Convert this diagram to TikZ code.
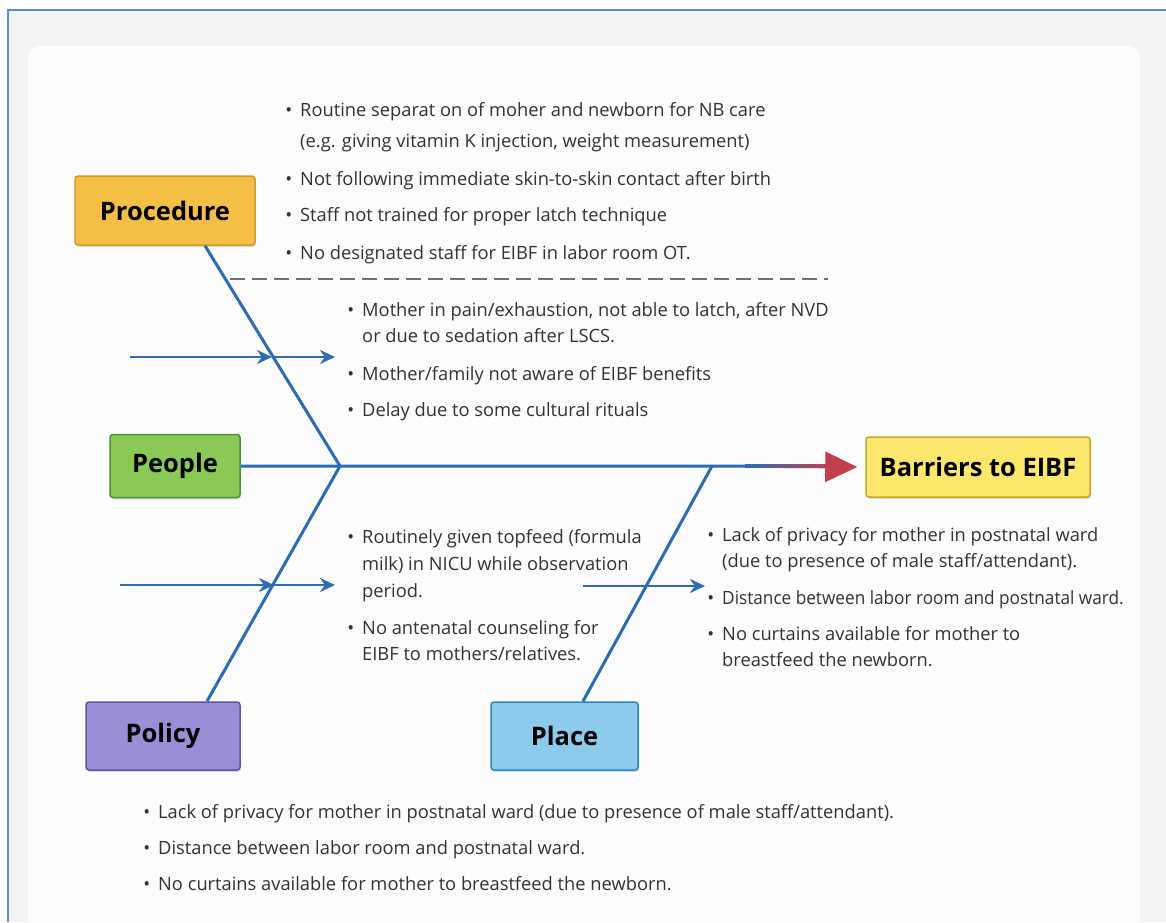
\documentclass[tikz,border=0pt]{standalone}
\usepackage{fontspec}
\setmainfont{Open Sans}
\usetikzlibrary{arrows.meta,shadows}
% colours
\definecolor{framecolor}{HTML}{5B8BD0}
\definecolor{pagegray}{HTML}{F3F3F3}
\definecolor{panelcolor}{HTML}{FCFCFC}
\definecolor{bonecolor}{HTML}{2B6CB3}
\definecolor{headred}{HTML}{C2404B}
\definecolor{textgray}{HTML}{333333}
\definecolor{dashgray}{HTML}{707070}
\definecolor{procfill}{HTML}{F5BF45}
\definecolor{procdraw}{HTML}{D69A2A}
\definecolor{peoplefill}{HTML}{8BC956}
\definecolor{peopledraw}{HTML}{4F8F35}
\definecolor{policyfill}{HTML}{9A8FD6}
\definecolor{policydraw}{HTML}{5F52A8}
\definecolor{placefill}{HTML}{8CCBEB}
\definecolor{placedraw}{HTML}{2F86BF}
\definecolor{headfill}{HTML}{FBE76C}
\definecolor{headdraw}{HTML}{C9A52B}
\tikzstyle{catbox} = [
    rectangle,
    rounded corners=3pt,
    line width=1.5pt,
    text=black,
    font=\fontsize{25.5}{30}\selectfont\bfseries,
    drop shadow={shadow xshift=1pt, shadow yshift=-2pt, opacity=0.25}
    ]
\tikzstyle{item} = [
    anchor=base west,
    align=left,
    inner sep=0pt,
    text=textgray,
    font=\fontsize{18.3}{27}\selectfont
    ]
\tikzstyle{bone} = [draw=bonecolor, line width=3pt]
\tikzstyle{causearrow} = [draw=bonecolor, line width=2.5pt, -{Stealth[length=15pt,width=14pt]}]
\newcommand{\bul}{\llap{\textbullet\hspace{8pt}}}

\begin{document}
\begin{tikzpicture}[x=1pt,y=-1pt]
\useasboundingbox (0,0) rectangle (1166,922);
% page and panel
\fill[white] (0,0) rectangle (1166,922);
\fill[pagegray] (8,10) rectangle (1166,922);
\fill[panelcolor, rounded corners=12pt] (28,46) rectangle (1140,940);
\draw[framecolor, line width=2pt] (8,922) -- (8,10) -- (1166,10);

% category boxes
\node[catbox, fill=procfill, draw=procdraw, minimum width=180pt, minimum height=69pt] (proc) at (165,210.5) {Procedure};
\node[catbox, fill=peoplefill, draw=peopledraw, minimum width=130pt, minimum height=63pt] (people) at (175,466) {People};
\node[catbox, fill=policyfill, draw=policydraw, minimum width=154pt, minimum height=68pt] (policy) at (163,736) {Policy};
\node[catbox, fill=placefill, draw=placedraw, minimum width=147pt, minimum height=68pt] (place) at (564.5,736) {Place};
\node[catbox, fill=headfill, draw=headdraw, minimum width=224pt, minimum height=60pt] (head) at (978,467) {Barriers to EIBF};

% joints on the spine
\coordinate (j1) at (340,466);
\coordinate (j2) at (712,466);
\coordinate (fadeL) at (745,466);
\coordinate (fadeR) at (832,466);

% spine with red head
\draw[bone, -{Triangle[length=32pt,width=30pt,color=headred]}] (people.east) -- (j1) -- (j2) -- ([xshift=-8pt]head.west);
\shade[left color=bonecolor, right color=headred] ([yshift=-1.5pt]fadeL) rectangle ([yshift=1.5pt]fadeR);

% bones
\draw[bone] ([xshift=40pt]proc.south) -- (j1);
\draw[bone] ([xshift=44pt]policy.north) -- (j1);
\draw[bone] ([xshift=18.5pt]place.north) -- (j2);

% cause arrows
\coordinate (upL) at (130,357);
\coordinate (upM) at (272,357);
\coordinate (upR) at (335,357);
\coordinate (loL) at (120,585);
\coordinate (loM) at (274,585);
\coordinate (loR) at (335,585);
\coordinate (rtL) at (583,586);
\coordinate (rtR) at (705,586);
\draw[causearrow] (upL) -- (upM);
\draw[causearrow] (upM) -- (upR);
\draw[causearrow] (loL) -- (loM);
\draw[causearrow] (loM) -- (loR);
\draw[causearrow] (rtL) -- (rtR);

% divider
\coordinate (dashL) at (230,279);
\coordinate (dashR) at (828,279);
\draw[dashgray, line width=1.5pt, dash pattern=on 15pt off 7pt] (dashL) -- (dashR);

% procedure causes (multi-line nodes sit on their last baseline)
\node[item] (proc1) at (300,147) {\bul Routine separat on of moher and newborn for NB care\\[4pt](e.g. giving vitamin K injection, weight measurement)};
\node[item] (proc2) at (300,185) {\bul Not following immediate skin-to-skin contact after birth};
\node[item] (proc3) at (300,221) {\bul Staff not trained for proper latch technique};
\node[item] (proc4) at (300,259) {\bul No designated staff for EIBF in labor room OT.};

% people causes
\node[item] (people1) at (362,342) {\bul Mother in pain/exhaustion, not able to latch, after NVD\\[-1pt]or due to sedation after LSCS.};
\node[item] (people2) at (362,380) {\bul Mother/family not aware of EIBF benefits};
\node[item] (people3) at (362,416) {\bul Delay due to some cultural rituals};

% policy causes
\node[item] (policy1) at (362,597) {\bul Routinely given topfeed (formula\\milk) in NICU while observation\\period.};
\node[item] (policy2) at (362,660) {\bul No antenatal counseling for\\[-1pt]EIBF to mothers/relatives.};

% place causes
\node[item] (place1) at (722,567) {\bul Lack of privacy for mother in postnatal ward\\[-1pt](due to presence of male staff/attendant).};
\node[item] (place2) at (722,604) {\bul \scalebox{0.94}[1]{Distance between labor room and postnatal ward.}};
\node[item] (place3) at (722,666) {\bul No curtains available for mother to\\[-1pt]breastfeed the newborn.};

% bottom list
\node[item] (bottom1) at (158,818) {\bul Lack of privacy for mother in postnatal ward (due to presence of male staff/attendant).};
\node[item] (bottom2) at (158,854) {\bul Distance between labor room and postnatal ward.};
\node[item] (bottom3) at (158,890) {\bul No curtains available for mother to breastfeed the newborn.};
\end{tikzpicture}
\end{document}
